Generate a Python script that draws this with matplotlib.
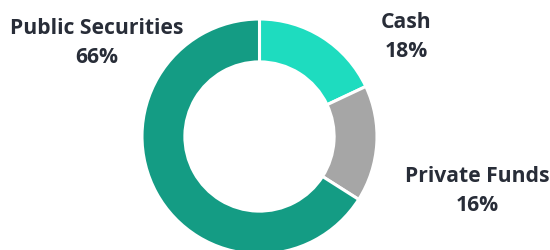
import matplotlib
matplotlib.use("Agg")
import matplotlib.pyplot as plt

categories = ["Cash", "Private Funds", "Public Securities"]
values = [18, 16, 66]
colors = ["#1edcbf", "#a6a6a6", "#149c84"]

fig = plt.figure(figsize=(5.5, 2.51), dpi=100)
ax = fig.add_axes([0, 0, 1, 1])

cx, cy, r = 259.5, 251 - 137.5, 117.5
ax.pie(values, colors=colors, startangle=90, counterclock=False,
       center=(cx, cy), radius=r, frame=True,
       wedgeprops=dict(width=r * 0.365, edgecolor="white", linewidth=2.2))
ax.set_xlim(0, 550)
ax.set_ylim(0, 251)
ax.set_aspect("auto")
ax.axis("off")

label_pos = {"Cash": (406, 251 - 37), "Private Funds": (477, 251 - 191), "Public Securities": (97, 251 - 43)}
for cat, v in zip(categories, values):
    x, y = label_pos[cat]
    ax.text(x, y, f"{cat}\n{v}%", ha="center", va="center", fontsize=15.2,
            fontweight="bold", family="Open Sans", color="#282d38", linespacing=1.5)

fig.savefig("out.png", dpi=100)
